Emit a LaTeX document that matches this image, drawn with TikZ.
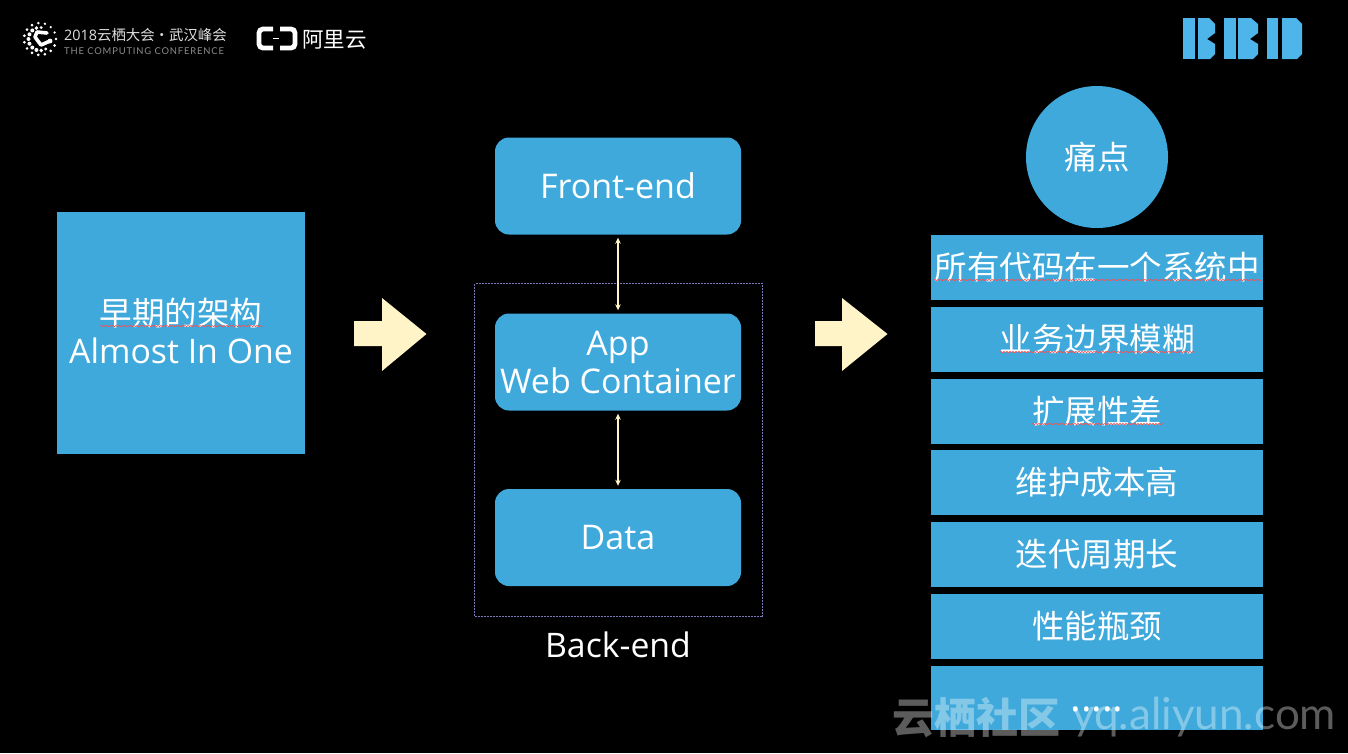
\documentclass[tikz,border=0pt]{standalone}
\usepackage{fontspec}
\setmainfont{Open Sans}
\newfontfamily\cjk{Noto Sans CJK SC}
\newfontfamily\latn{Lato}
\newfontfamily\latnwide[LetterSpace=9]{Lato}
\usetikzlibrary{arrows.meta,decorations.pathmorphing,calc}
\definecolor{panel}{HTML}{3FA9DC}
\definecolor{cream}{HTML}{FFF4C8}
\definecolor{logoblue}{HTML}{4DB5EA}
\tikzset{
  x=1pt,y=-1pt,
  panelbox/.style={fill=panel,draw=none,inner sep=0pt,text=white,align=center},
  rbox/.style={panelbox,rounded corners=14pt,minimum width=246pt,minimum height=97pt,font=\fontsize{34}{38}\selectfont},
  issue/.style={panelbox,minimum width=332pt,minimum height=65pt,font=\cjk\fontsize{32.5}{36}\selectfont},
  link/.style={draw=cream,line width=1.2pt,{Stealth[length=6pt,width=5.5pt]}-{Stealth[length=6pt,width=5.5pt]},shorten >=3pt,shorten <=3pt},
  bigarrow/.style={fill=cream,draw=none},
  squiggle/.style={draw=red!70!white,line width=0.5pt,decorate,decoration={snake,amplitude=0.7pt,segment length=3pt}},
  wm/.style={text=white,opacity=0.36,inner sep=0pt,anchor=base west}
}
\begin{document}
\begin{tikzpicture}
\path[use as bounding box,fill=black] (0,0) rectangle (1348,753);

% header: conference mark
\foreach \a/\r/\s in {0/16/1.3,24/16/1.4,48/16/1.5,72/16/1.5,96/16/1.5,120/16/1.5,144/16/1.4,168/16/1.5,192/16/1.5,216/16/1.5,240/16/1.5,264/16/1.4,288/16/1.3,312/16/1.3,336/16/1.3,
  12/11.5/1.1,60/11.5/1.7,84/11.5/1.9,108/11.5/2,132/11.5/2,156/11.5/2,180/11.5/2,204/11.5/2,228/11.5/2,252/11.5/1.9,276/11.5/1.6}
  \fill[white] ($(40,39)+(\a:\r)$) circle (\s);
\draw[white,line width=3.6pt,line cap=round,line join=round] (47,33) -- (37,32) -- (35,37) -- (41,45) -- (50,41);
\fill[white] (50,41) circle (2.4);
\node[anchor=base west,inner sep=0pt,text=white!88!black] (confname) at (64,40) {\fontsize{14.4}{16}\selectfont 2018\cjk 云栖大会·武汉峰会};
\node[anchor=base west,inner sep=0pt,text=white!55!black] (confsub) at (64,54) {\fontsize{9.4}{10}\selectfont\latnwide THE COMPUTING CONFERENCE};

% header: cloud mark
\draw[white,line width=4.8pt,rounded corners=4pt] (273,29) -- (259,29) -- (259,48) -- (273,48);
\draw[white,line width=4.8pt,rounded corners=4pt] (280,29) -- (295,29) -- (295,48) -- (280,48);
\draw[white,line width=0.8pt] (273,38.5) -- (279,38.5);
\node[anchor=base west,inner sep=0pt,text=white] (cloudname) at (302,47) {\cjk\fontsize{21.5}{24}\selectfont 阿里云};

% header: BBD mark
\fill[logoblue] (1183,18) rectangle (1195,59);
\fill[logoblue] (1198,18) -- (1209,18) -- (1215,24) -- (1215,33) -- (1207,39) -- (1215,44) -- (1215,54) -- (1210,59) -- (1198,59) -- cycle;
\fill[logoblue] (1224,18) rectangle (1236,59);
\fill[logoblue] (1238,18) -- (1251,18) -- (1258,24) -- (1258,33) -- (1250,39) -- (1258,44) -- (1258,54) -- (1253,59) -- (1238,59) -- cycle;
\fill[logoblue] (1267,18) rectangle (1278,59);
\fill[logoblue] (1282,18) -- (1296,18) -- (1302,24) -- (1302,54) -- (1297,59) -- (1282,59) -- cycle;

% left panel
\node[panelbox,minimum width=248pt,minimum height=242pt] (early) at (181,333) {};
\node[inner sep=0pt,text=white,align=center,font=\fontsize{33.8}{38}\selectfont] (earlytext) at (181,331)
  {{\cjk\fontsize{32.6}{38}\selectfont 早期的架构}\\Almost In One};
\draw[squiggle] (100,326) -- (263,326);

% flow arrows
\fill[bigarrow] (354,321) -- (382,321) -- (382,298) -- (426.5,334) -- (382,371) -- (382,346) -- (354,346) -- cycle;
\fill[bigarrow] (815,321) -- (842,321) -- (842,298) -- (887.5,334) -- (842,371) -- (842,346) -- (815,346) -- cycle;

% centre stack
\draw[draw=blue!30!gray!80!white,line width=0.5pt,densely dotted] (474.5,283.5) rectangle (762.5,616.5);
\node[rbox] (front) at (618,186) {Front-end};
\node[rbox] (app) at (618,362) {App\\Web Container};
\node[rbox] (data) at (618,537.5) {Data};
\node[text=white,inner sep=0pt,font=\fontsize{33.8}{38}\selectfont] (backend) at (618,645) {Back-end};
\draw[link] (front) -- (app);
\draw[link] (app) -- (data);

% pain points column
\node[circle,fill=panel,minimum size=142pt,inner sep=0pt,text=white,font=\cjk\fontsize{32.5}{36}\selectfont] (pain) at (1097,157) {痛点};
\node[issue] (i1) at (1097,267.5) {所有代码在一个系统中};
\node[issue] (i2) at (1097,339.5) {业务边界模糊};
\node[issue] (i3) at (1097,411) {扩展性差};
\node[issue] (i4) at (1097,482.5) {维护成本高};
\node[issue] (i5) at (1097,554.5) {迭代周期长};
\node[issue] (i6) at (1097,626) {性能瓶颈};
\node[issue,minimum height=64pt] (i7) at (1097,698) {};
\node[inner sep=0pt,text=white,font=\fontsize{40}{42}\selectfont] (i7text) at (1097,709) {.....};
\draw[squiggle] (934,280) -- (1262,280);
\draw[squiggle] (1000,352) -- (1195,352);
\draw[squiggle] (1032,424) -- (1163,424);

% site watermark
\node[wm] (wmcjk) at (892,733) {\cjk\bfseries\fontsize{42}{44}\selectfont 云栖社区};
\node[wm] (wmurl) at (1072,729) {\latn\fontsize{44}{46}\selectfont yq.aliyun.com};
\end{tikzpicture}
\end{document}
